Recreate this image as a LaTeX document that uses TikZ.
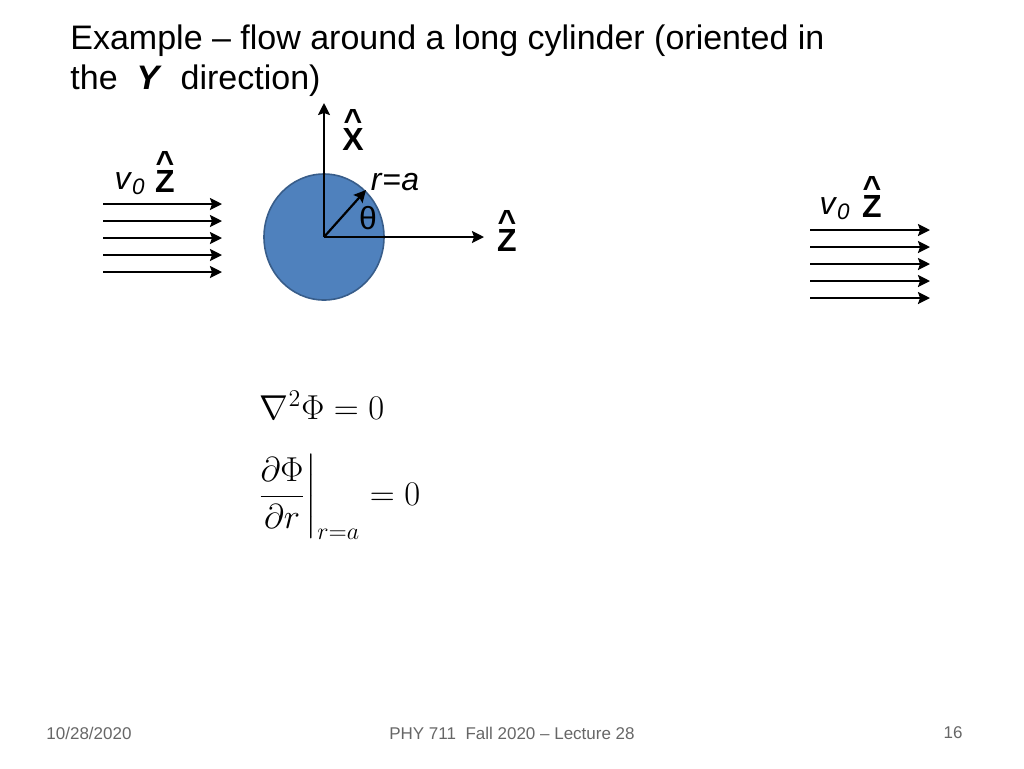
\documentclass[tikz,border=0pt]{standalone}
\usepackage{fontspec}
\setmainfont{Liberation Sans}
\usepackage{amsmath}
\usepackage{tikz}
\usetikzlibrary{calc,arrows.meta,positioning}
\definecolor{cylfill}{HTML}{4F81BD}
\definecolor{cylline}{HTML}{385D8A}
\tikzset{
  flow/.style={line width=1.1pt,-{Stealth[length=6pt,width=6pt,inset=1pt]}},
  axis/.style={line width=1.1pt,-{Stealth[length=6pt,width=6pt,inset=1pt]}},
  lbl/.style={font=\fontsize{16}{18}\selectfont,inner sep=0pt},
  unitvec/.style={lbl,font=\fontsize{16}{18}\selectfont\bfseries},
  hatmark/.style={lbl,font=\fontsize{16}{18}\selectfont\bfseries},
  foot/.style={font=\fontsize{8.5}{10}\selectfont,text=gray!80!black}
}
\begin{document}
\begin{tikzpicture}[x=0.5pt,y=-0.5pt]
\useasboundingbox (0,0) rectangle (1024,768);
% Title
\node[anchor=west,inner sep=0pt,font=\fontsize{17}{20}\selectfont] at (70,41) {Example -- flow around a long cylinder (oriented in};
\node[anchor=west,inner sep=0pt,font=\fontsize{17}{20}\selectfont] at (70,81) {the \ \textbf{\textit{Y}} \ direction)};

% Incoming flow
\foreach \y in {204,221,238,255,272}
  \draw[flow] (103,\y) -- (222,\y);
\node[lbl] (vleft) at (130,184) {\textit{v}$_{\textit{0}}$};
\node[unitvec] (zleft) at (165,181) {Z};
\node[hatmark,above=-2pt of zleft] {\char"5E};

% Cylinder and axes
\coordinate (O) at (324,237);
\draw[fill=cylfill,draw=cylline,thick] (O) ellipse (60 and 63);
\draw[axis] (O) -- (324,103) coordinate (xtip);
\draw[axis] (O) -- (484,237) coordinate (ztip);
\draw[axis] (O) -- (366,190) coordinate (rtip);
\node[unitvec] (xhat) at (353,139) {X};
\node[hatmark,above=-2pt of xhat] {\char"5E};
\node[unitvec] (zhat) at (507,240) {Z};
\node[hatmark,above=-2pt of zhat] {\char"5E};
\node[lbl] (rlbl) at (395,182) {\textit{r}=\textit{a}};
\node[lbl] (theta) at (368,218) {θ};

% Outgoing flow
\foreach \y in {230,247,264,281,298}
  \draw[flow] (810,\y) -- (930,\y);
\node[lbl] (vright) at (835,209) {\textit{v}$_{\textit{0}}$};
\node[unitvec] (zright) at (872,206) {Z};
\node[hatmark,above=-2pt of zright] {\char"5E};

% Equations
\node[font=\fontsize{17}{20}\selectfont] (laplace) at (322,405) {$\nabla^2\Phi = 0$};
\node[font=\fontsize{17}{20}\selectfont] (bc) at (338,497) {$\left.\dfrac{\partial\Phi}{\partial r}\right|_{r=a} = 0$};

% Footer
\node[foot] at (89,733) {10/28/2020};
\node[foot] at (512,733) {PHY 711 \ Fall 2020 -- Lecture 28};
\node[foot] at (953,733) {16};
\end{tikzpicture}
\end{document}
